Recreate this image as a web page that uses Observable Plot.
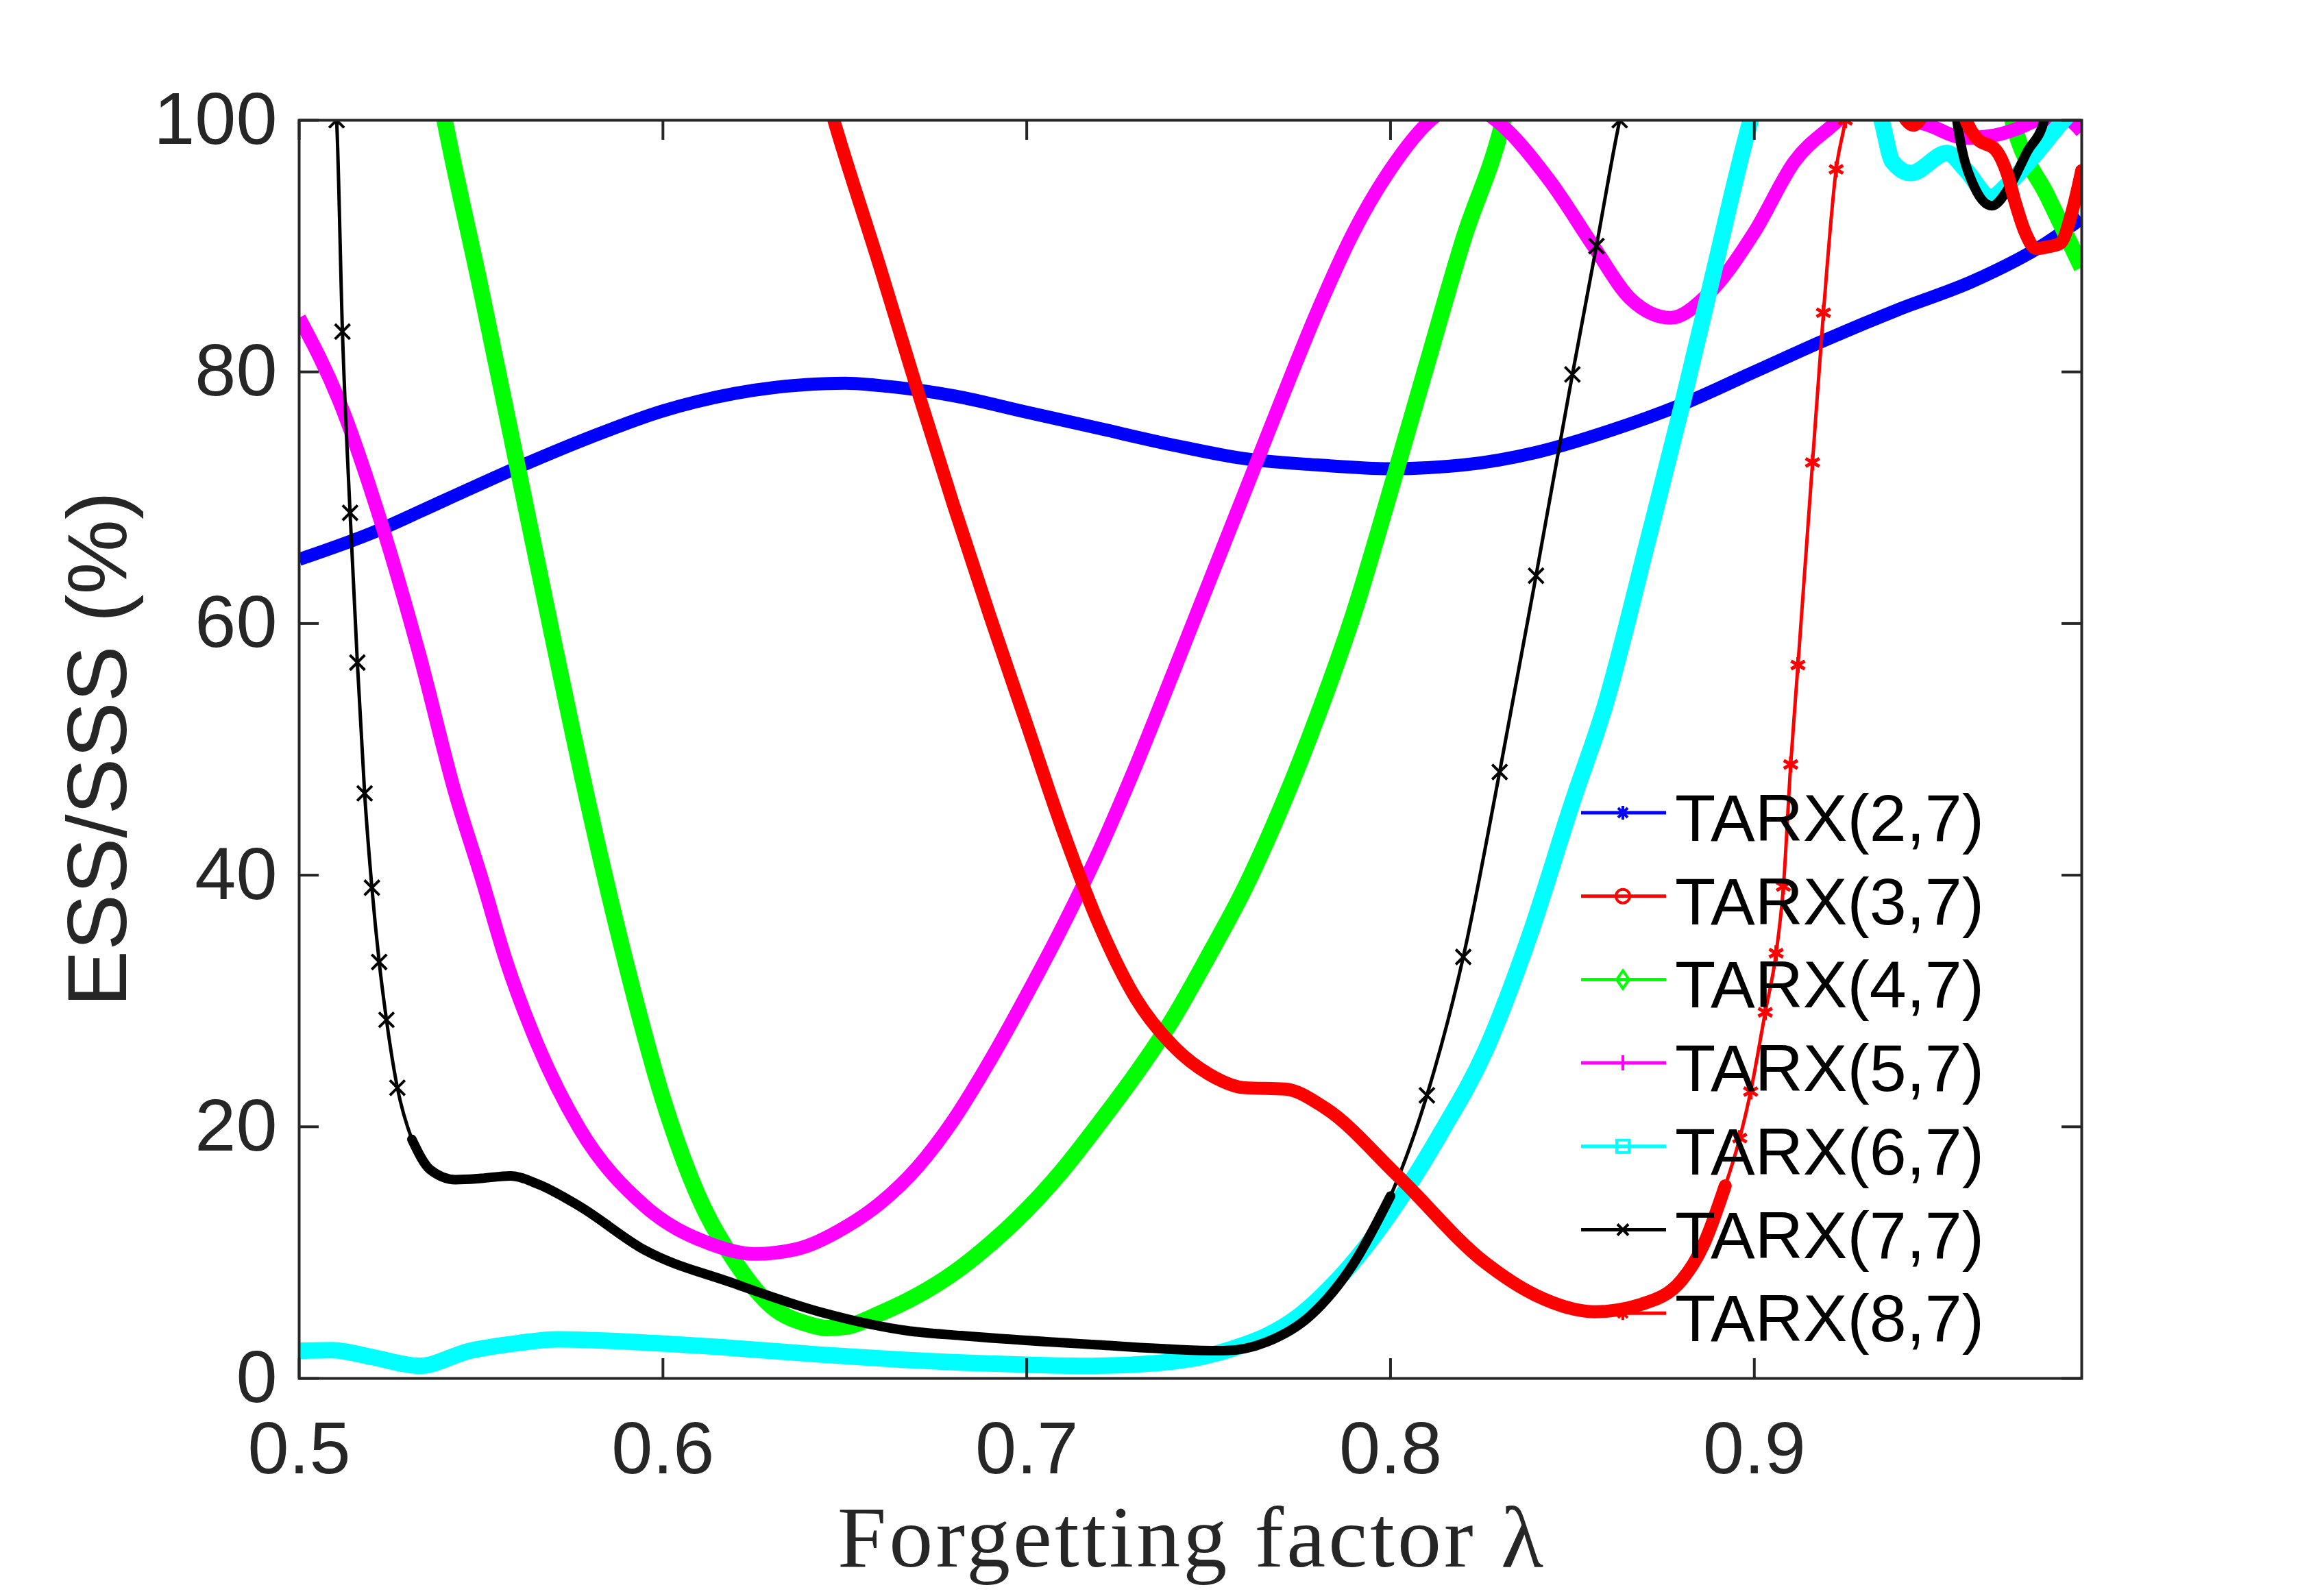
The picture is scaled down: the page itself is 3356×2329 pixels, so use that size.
<!DOCTYPE html>
<html>
<head>
<meta charset="utf-8">
<script src="https://cdn.jsdelivr.net/npm/d3@7"></script>
<script src="https://cdn.jsdelivr.net/npm/@observablehq/plot@0.6"></script>
<style>
  html, body { margin: 0; padding: 0; background: #ffffff; overflow: hidden; }
  #chart { width: 3356px; height: 2329px; }
</style>
</head>
<body>
<div id="chart"></div>
<script>
// ---------------- data ----------------
const xTicks = [0.5, 0.6, 0.7, 0.8, 0.9];
const yTicks = [0, 20, 40, 60, 80, 100];
const xLabel = "Forgetting factor \u03bb";
const yLabel = "ESS/SSS (%)";

const seriesNames = ["TARX(2,7)", "TARX(3,7)", "TARX(4,7)", "TARX(5,7)", "TARX(6,7)", "TARX(7,7)", "TARX(8,7)"];
const seriesColors = ["#0000ff", "#ff0000", "#00ff00", "#ff00ff", "#00ffff", "#000000", "#ff0000"];
const seriesMarkers = ["asterisk", "circle", "diamond", "plus", "square", "times", "asterisk"];

// TARX(2,7)
const lam27 = [0.50,0.52,0.54,0.56,0.58,0.60,0.62,0.64,0.65,0.66,0.68,0.70,0.72,0.74,0.76,0.78,0.80,0.82,0.84,0.86,0.88,0.90,0.92,0.94,0.96,0.98,0.99];
const ess27 = [65.1,67.2,69.8,72.4,74.8,76.9,78.3,79.0,79.1,78.9,78.1,76.8,75.5,74.2,73.1,72.6,72.3,72.6,73.6,75.3,77.4,80.0,82.6,85.0,87.2,90.2,92.2];

// TARX(3,7): above the plotted range everywhere (nothing visible)
const lam37 = [];
const ess37 = [];

// TARX(4,7)
const lam47 = [0.538,0.540,0.550,0.560,0.570,0.580,0.590,0.600,0.610,0.620,0.630,0.640,0.645,0.650,0.660,0.670,0.680,0.690,0.700,0.710,0.720,0.730,0.740,0.750,0.760,0.770,0.780,0.790,0.800,0.810,0.820,0.831,0.833,NaN,0.969,0.971,0.9807,0.990];
const ess47 = [103,100,86.5,72.5,58.5,45.0,32.8,22.2,14.3,9.2,5.7,4.3,4.0,4.1,5.2,6.6,8.4,10.7,13.4,16.6,20.3,24.2,28.5,33.6,39.0,45.4,52.7,60.9,70.6,80.6,90.5,100,102.5,NaN,102.5,100,93.9,88.3];

// TARX(5,7)
const lam57 = [0.500,0.511,0.523,0.533,0.543,0.550,0.557,0.565,0.577,0.595,0.613,0.625,0.637,0.650,0.660,0.670,0.680,0.690,0.700,0.710,0.720,0.730,0.740,0.750,0.760,0.770,0.780,0.790,0.800,0.811,0.820,0.829,0.844,0.856,0.866,0.877,0.887,0.900,0.911,0.923,0.930,NaN,0.938,0.942,0.948,0.958,0.966,0.972,0.978,0.985,0.990];
const ess57 = [84.3,77.7,67.6,57.6,46.4,39.9,33.1,26.9,19.9,13.7,10.7,9.9,10.3,12.0,14.0,16.8,20.6,25.3,30.5,36.0,42.0,48.7,55.9,63.2,70.5,77.8,84.9,91.2,96.1,100,101.5,100,95.1,89.9,85.8,84.3,86.1,91.1,96.7,100,102,NaN,101,100.2,99.6,98.6,98.8,99.3,100,100.2,99.1];

// TARX(6,7)
const lam67 = [0.500,0.509,0.520,0.533,0.547,0.560,0.571,0.595,0.620,0.643,0.665,0.688,0.718,0.735,0.748,0.757,0.766,0.775,0.784,0.793,0.802,0.814,0.826,0.838,0.850,0.859,0.871,0.880,0.888,0.899,0.901,NaN,0.933,0.935,0.938,0.943,0.953,0.958,0.965,0.970,0.977,0.985,0.990];
const ess67 = [2.2,2.25,1.7,1.0,2.2,2.8,3.1,2.85,2.4,1.9,1.5,1.2,1.0,1.2,1.7,2.4,3.4,5.0,7.4,10.4,14.0,19.6,26.0,35.0,45.8,53.5,66.9,77.2,86.9,100,102,NaN,102,100,96.7,95.8,97.4,96.1,93.9,95.0,97.2,100,101.5];

// TARX(7,7)
const lam77 = [0.5098,0.5103,0.5119,0.514,0.516,0.518,0.520,0.522,0.524,0.527,0.531,0.536,0.543,0.550,0.558,0.566,0.577,0.595,0.619,0.643,0.667,0.682,0.718,0.754,0.766,0.778,0.790,0.800,0.810,0.820,0.830,0.840,0.850,0.8566,0.863,0.8645,NaN,0.9548,0.9557,0.9605,0.9653,0.9701,0.975,0.9797,0.981];
const ess77 = [102,100,83.2,68.8,56.9,46.5,39.0,33.1,28.5,23.1,19.0,16.6,15.8,15.9,16.1,15.4,13.7,10.2,7.6,5.3,3.8,3.4,2.7,2.2,2.9,5.0,9.2,14.5,22.5,33.5,48.2,63.8,79.8,90.0,100,102,NaN,102,100,94.7,93.2,94.7,97.5,100,102];

// TARX(8,7)
const lam87 = [0.645,0.647,0.660,0.670,0.680,0.690,0.700,0.710,0.720,0.730,0.740,0.750,0.760,0.771,0.782,0.802,0.826,0.840,0.856,0.869,0.880,0.886,0.892,0.896,0.899,0.903,0.906,0.908,0.910,0.912,0.916,0.919,0.9225,0.925,0.926,NaN,0.940,0.9437,0.947,NaN,0.957,0.9585,0.961,0.9665,0.9697,0.9717,0.9743,0.9775,0.980,0.984,0.9875,0.990];
const ess87 = [102,100,88.0,78.5,69.3,60.5,52.0,43.5,36.0,30.2,26.5,24.2,23.1,23.0,21.5,16.1,9.2,6.6,5.3,5.9,7.8,10.6,15.3,19.1,22.8,29.1,33.8,39.1,48.8,56.7,72.8,84.7,96.1,100,102,NaN,100.8,99.6,100.8,NaN,101,99.8,98.6,97.6,95.6,93.5,91.2,89.8,89.9,90.2,92.9,96];

const lamSeries = [lam27, lam37, lam47, lam57, lam67, lam77, lam87];
const essSeries = [ess27, ess37, ess47, ess57, ess67, ess77, ess87];

// ---------------- layout / style ----------------
const W = 3356, H = 2329;
const mL = 436, mR = 319, mT = 175, mB = 318;
const innerW = W - mL - mR, innerH = H - mT - mB;
const axisColor = "#262626";
// width of the dense-marker band of each series
const bandWidths = [19, 19, 24, 20, 24, 14, 19];
const thinWidth = 5;
// λ ranges in which a curve is so steep that its markers separate (thin line + markers)
const thinRanges = [[], [], [], [], [], [[0.5, 0.528], [0.803, 0.87]], [[0.893, 0.93]]];
const thinMarkerR = [8, 8, 8, 8, 8, 10, 11];
const thinMarkerW = [4, 4, 4, 4, 4, 4, 5];
const plotSymbols = {asterisk: "asterisk", circle: "circle", diamond: "diamond2", plus: "plus", square: "square2", times: "times"};
const tickLen = 29;

const inThin = (i, l) => thinRanges[i].some(([a, b]) => l >= a && l <= b);

const tables = seriesNames.map((name, i) =>
  lamSeries[i].map((l, j) => ({series: name, lam: l, ess: essSeries[i][j]}))
);

const curveMarks = [];
tables.forEach((rows, i) => {
  if (thinRanges[i].length) {
    curveMarks.push(Plot.line(rows, {
      x: "lam", y: "ess", stroke: seriesColors[i], strokeWidth: thinWidth,
      curve: "monotone-x", clip: true
    }));
    curveMarks.push(Plot.dot(rows.filter(d => inThin(i, d.lam) && d.ess <= 100), {
      x: "lam", y: "ess", stroke: seriesColors[i], strokeWidth: thinMarkerW[i], r: thinMarkerR[i],
      symbol: plotSymbols[seriesMarkers[i]], clip: true
    }));
  }
  curveMarks.push(Plot.line(rows, {
    x: "lam",
    y: d => (inThin(i, d.lam) ? NaN : d.ess),
    stroke: seriesColors[i],
    strokeWidth: bandWidths[i],
    strokeLinejoin: "round",
    strokeLinecap: thinRanges[i].length ? "round" : "butt",
    curve: "monotone-x",
    clip: true
  }));
});

const chart = Plot.plot({
  width: W, height: H,
  marginLeft: mL, marginRight: mR, marginTop: mT, marginBottom: mB,
  style: {background: "#ffffff", fontFamily: "'Liberation Sans', Arial, sans-serif"},
  x: {domain: [0.5, 0.99]},
  y: {domain: [0, 100]},
  marks: [
    ...curveMarks,
    // inward ticks on all four sides
    Plot.ruleX(xTicks, {stroke: axisColor, strokeWidth: 4, insetTop: innerH - tickLen}),
    Plot.ruleX(xTicks, {stroke: axisColor, strokeWidth: 4, insetBottom: innerH - tickLen}),
    Plot.ruleY(yTicks, {stroke: axisColor, strokeWidth: 4, insetRight: innerW - tickLen}),
    Plot.ruleY(yTicks, {stroke: axisColor, strokeWidth: 4, insetLeft: innerW - tickLen}),
    Plot.frame({stroke: axisColor, strokeWidth: 4}),
    Plot.axisX({ticks: xTicks, tickSize: 0, tickPadding: 62, fontSize: 108, fill: axisColor,
                tickFormat: d => String(d), label: null}),
    Plot.axisY({ticks: yTicks, tickSize: 0, tickPadding: 32, fontSize: 108, fill: axisColor,
                tickFormat: d => String(d), label: null}),
    Plot.text([xLabel], {text: d => d, frameAnchor: "bottom", dy: 274,
               lineAnchor: "bottom", textAnchor: "middle", fontSize: 128, fill: axisColor,
               fontFamily: "'Liberation Serif', 'DejaVu Serif', serif"})
  ]
});

document.getElementById("chart").appendChild(chart);

// stretch the serif x-label to the width it has in the reference
d3.select(chart).selectAll("text").filter(function() {
  return this.textContent.indexOf("Forgetting") === 0;
}).attr("textLength", 1030).attr("lengthAdjust", "spacing");

// rotated y-axis title (baseline 252 px left of the frame, centred on it)
d3.select(chart).append("g")
  .attr("transform", `translate(${mL - 252},${mT + innerH / 2}) rotate(-90)`)
  .append("text")
  .attr("text-anchor", "middle")
  .attr("font-family", "'Liberation Sans', Arial, sans-serif")
  .attr("font-size", 123)
  .attr("fill", axisColor)
  .text(yLabel);

// ---------------- legend (no box, drawn over the curves) ----------------
const legendTop = 1186, legendStep = 121.7;
const legLineX1 = 2307, legLineX2 = 2431, legMarkX = 2368, legTextX = 2444;
const lg = d3.select(chart).append("g").attr("class", "legend");

function drawMarker(g, type, cx, cy, color) {
  const s = g.append("g").attr("transform", `translate(${cx},${cy})`)
    .attr("fill", "none").attr("stroke", color).attr("stroke-width", 4);
  if (type === "asterisk") {
    const r = 10, d = 7;
    s.append("path").attr("d", `M${-r},0H${r}M0,${-r}V${r}M${-d},${-d}L${d},${d}M${-d},${d}L${d},${-d}`);
  } else if (type === "circle") {
    s.append("circle").attr("r", 10);
  } else if (type === "diamond") {
    s.append("path").attr("d", "M0,-13L9,0L0,13L-9,0Z");
  } else if (type === "plus") {
    s.append("path").attr("d", "M-11,0H11M0,-11V11");
  } else if (type === "square") {
    s.append("rect").attr("x", -9).attr("y", -9).attr("width", 18).attr("height", 18);
  } else if (type === "times") {
    s.append("path").attr("d", "M-8,-8L8,8M-8,8L8,-8");
  }
}

seriesNames.forEach((name, i) => {
  const cy = legendTop + i * legendStep;
  lg.append("line")
    .attr("x1", legLineX1).attr("x2", legLineX2)
    .attr("y1", cy).attr("y2", cy)
    .attr("stroke", seriesColors[i]).attr("stroke-width", 5);
  drawMarker(lg, seriesMarkers[i], legMarkX, cy, seriesColors[i]);
  lg.append("text")
    .attr("x", legTextX).attr("y", cy + 41)
    .attr("text-anchor", "start")
    .attr("font-family", "'Liberation Sans', Arial, sans-serif")
    .attr("font-size", 97)
    .attr("fill", "#000000")
    .text(name);
});
</script>
</body>
</html>
